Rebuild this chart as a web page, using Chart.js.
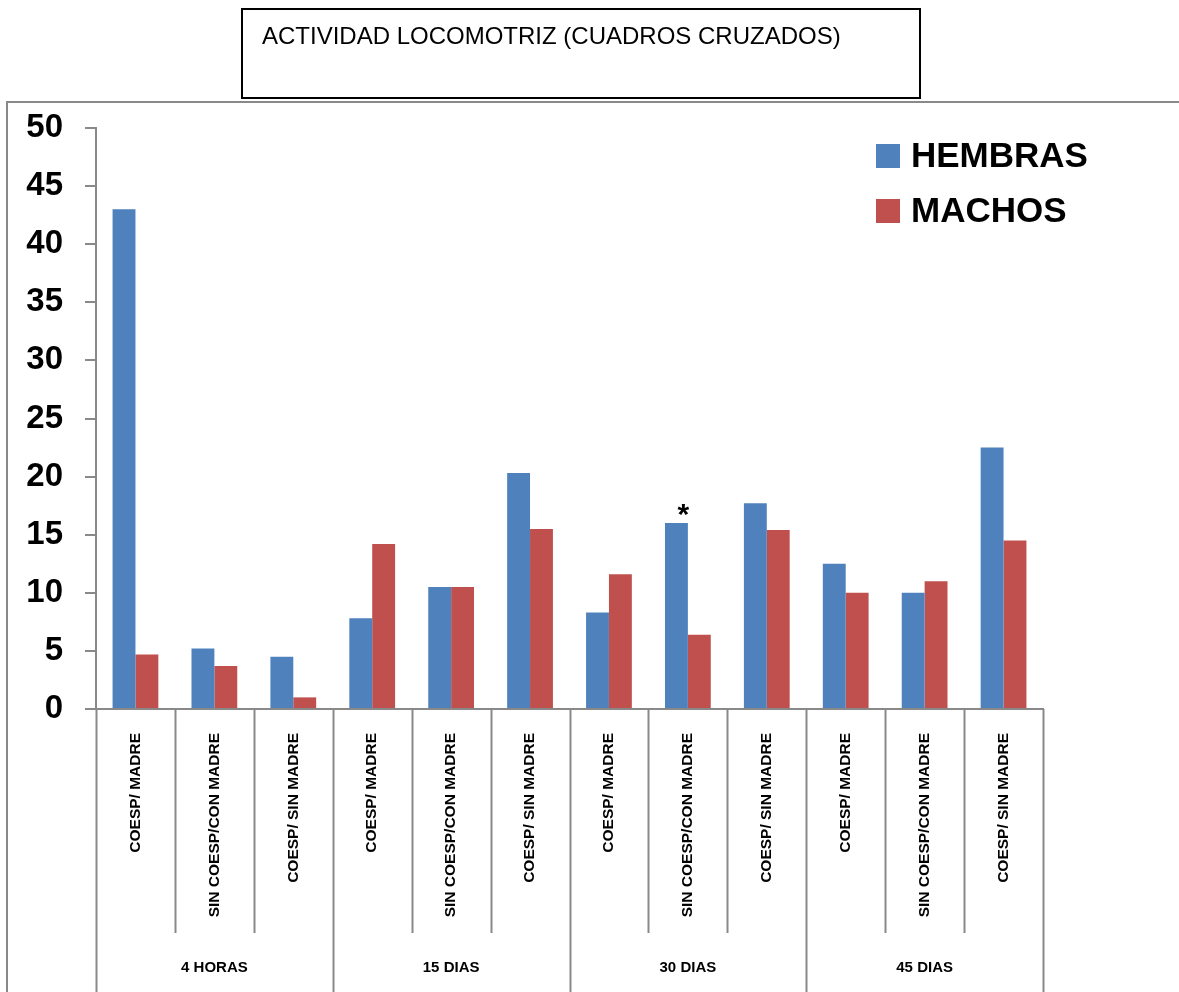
<!DOCTYPE html>
<html>
<head>
<meta charset="utf-8">
<script src="https://cdn.jsdelivr.net/npm/chart.js@4.4.0/dist/chart.umd.min.js"></script>
<style>
  html, body { margin: 0; padding: 0; background: #ffffff; }
  canvas { display: block; }
</style>
</head>
<body>
<canvas id="locomotriz" width="1179" height="992"></canvas>
<script>
// Datos
const titulo = 'ACTIVIDAD LOCOMOTRIZ (CUADROS CRUZADOS)';
const categorias = [
  'COESP/ MADRE', 'SIN COESP/CON MADRE', 'COESP/ SIN MADRE',
  'COESP/ MADRE', 'SIN COESP/CON MADRE', 'COESP/ SIN MADRE',
  'COESP/ MADRE', 'SIN COESP/CON MADRE', 'COESP/ SIN MADRE',
  'COESP/ MADRE', 'SIN COESP/CON MADRE', 'COESP/ SIN MADRE'
];
const grupos = ['4 HORAS', '15 DIAS', '30 DIAS', '45 DIAS'];
const hembras = [43, 5.2, 4.5, 7.8, 10.5, 20.3, 8.3, 16.0, 17.7, 12.5, 10.0, 22.5];
const machos = [4.7, 3.7, 1.0, 14.2, 10.5, 15.5, 11.6, 6.4, 15.4, 10.0, 11.0, 14.5];
const marcaAsterisco = 7; // índice de la barra de hembras con '*'

const gris = '#898989';

// Plugin para el recuadro, título, ejes de dos niveles y leyenda
const decoraciones = {
  id: 'decoraciones',
  beforeDraw(chart) {
    const ctx = chart.ctx;
    ctx.save();
    ctx.fillStyle = '#ffffff';
    ctx.fillRect(0, 0, chart.width, chart.height);
    // marco gris exterior
    ctx.strokeStyle = gris;
    ctx.lineWidth = 2;
    ctx.beginPath();
    ctx.moveTo(7, chart.height + 5);
    ctx.lineTo(7, 102);
    ctx.lineTo(chart.width + 5, 102);
    ctx.stroke();
    // cuadro del título
    ctx.strokeStyle = '#000000';
    ctx.lineWidth = 2;
    ctx.strokeRect(242, 9, 678, 89);
    ctx.fillStyle = '#000000';
    ctx.font = '24px "Liberation Sans"';
    ctx.textAlign = 'left';
    ctx.textBaseline = 'alphabetic';
    ctx.fillText(titulo, 262, 44);
    ctx.restore();
  },
  afterDraw(chart) {
    const ctx = chart.ctx;
    const x = chart.scales.x;
    const area = chart.chartArea;
    const n = categorias.length;
    const borde = i => {
      if (i === 0) return area.left;
      if (i === n) return area.right;
      return (x.getPixelForValue(i - 1) + x.getPixelForValue(i)) / 2;
    };
    ctx.save();
    ctx.strokeStyle = gris;
    ctx.lineWidth = 2;
    for (let i = 0; i <= n; i++) {
      const bx = Math.round(borde(i)) + 0.5;
      const finGrupo = i % 3 === 0;
      ctx.beginPath();
      ctx.moveTo(bx, area.bottom);
      ctx.lineTo(bx, finGrupo ? chart.height : area.bottom + 224);
      ctx.stroke();
    }
    // etiquetas de grupo
    ctx.fillStyle = '#000000';
    ctx.font = 'bold 15px "Liberation Sans"';
    ctx.textAlign = 'center';
    ctx.textBaseline = 'middle';
    grupos.forEach((g, k) => {
      const cx = (borde(k * 3) + borde(k * 3 + 3)) / 2;
      ctx.fillText(g, cx, 968);
    });
    // leyenda
    ctx.font = 'bold 35px "Liberation Sans"';
    ctx.textAlign = 'left';
    chart.data.datasets.forEach((ds, k) => {
      const y = 144 + k * 55;
      ctx.fillStyle = ds.backgroundColor;
      ctx.fillRect(876, y, 24, 24);
      ctx.fillStyle = '#000000';
      ctx.fillText(ds.label, 911, y + 13);
    });
    // asterisco
    const barra = chart.getDatasetMeta(0).data[marcaAsterisco];
    ctx.font = 'bold 30px "Liberation Sans"';
    ctx.textAlign = 'center';
    ctx.textBaseline = 'alphabetic';
    ctx.fillText('*', barra.x + 7, barra.y + 1);
    ctx.restore();
  }
};

const ctx = document.getElementById('locomotriz').getContext('2d');
new Chart(ctx, {
  type: 'bar',
  data: {
    labels: categorias,
    datasets: [
      { label: 'HEMBRAS', data: hembras, backgroundColor: '#4F81BD' },
      { label: 'MACHOS', data: machos, backgroundColor: '#C0504D' }
    ]
  },
  options: {
    responsive: false,
    animation: false,
    devicePixelRatio: 1,
    layout: { padding: { left: 0, top: 128, right: 136, bottom: 0 } },
    datasets: { bar: { categoryPercentage: 0.58, barPercentage: 1.0 } },
    plugins: {
      legend: { display: false },
      title: { display: false },
      tooltip: { enabled: false }
    },
    scales: {
      x: {
        afterFit(scale) { scale.height = 283; },
        border: { color: gris, width: 2 },
        grid: { display: false, drawTicks: false },
        ticks: {
          autoSkip: false,
          minRotation: 90,
          maxRotation: 90,
          padding: 24,
          color: '#000000',
          font: { family: 'Liberation Sans', size: 15.5, weight: 'bold' }
        }
      },
      y: {
        min: 0,
        max: 50,
        afterFit(scale) { scale.width = 96; },
        border: { color: gris, width: 2 },
        grid: { drawOnChartArea: false, color: gris, lineWidth: 2, tickLength: 11 },
        ticks: {
          stepSize: 5,
          padding: 22,
          color: '#000000',
          font: { family: 'Liberation Sans', size: 33, weight: 'bold' }
        }
      }
    }
  },
  plugins: [decoraciones]
});
</script>
</body>
</html>
